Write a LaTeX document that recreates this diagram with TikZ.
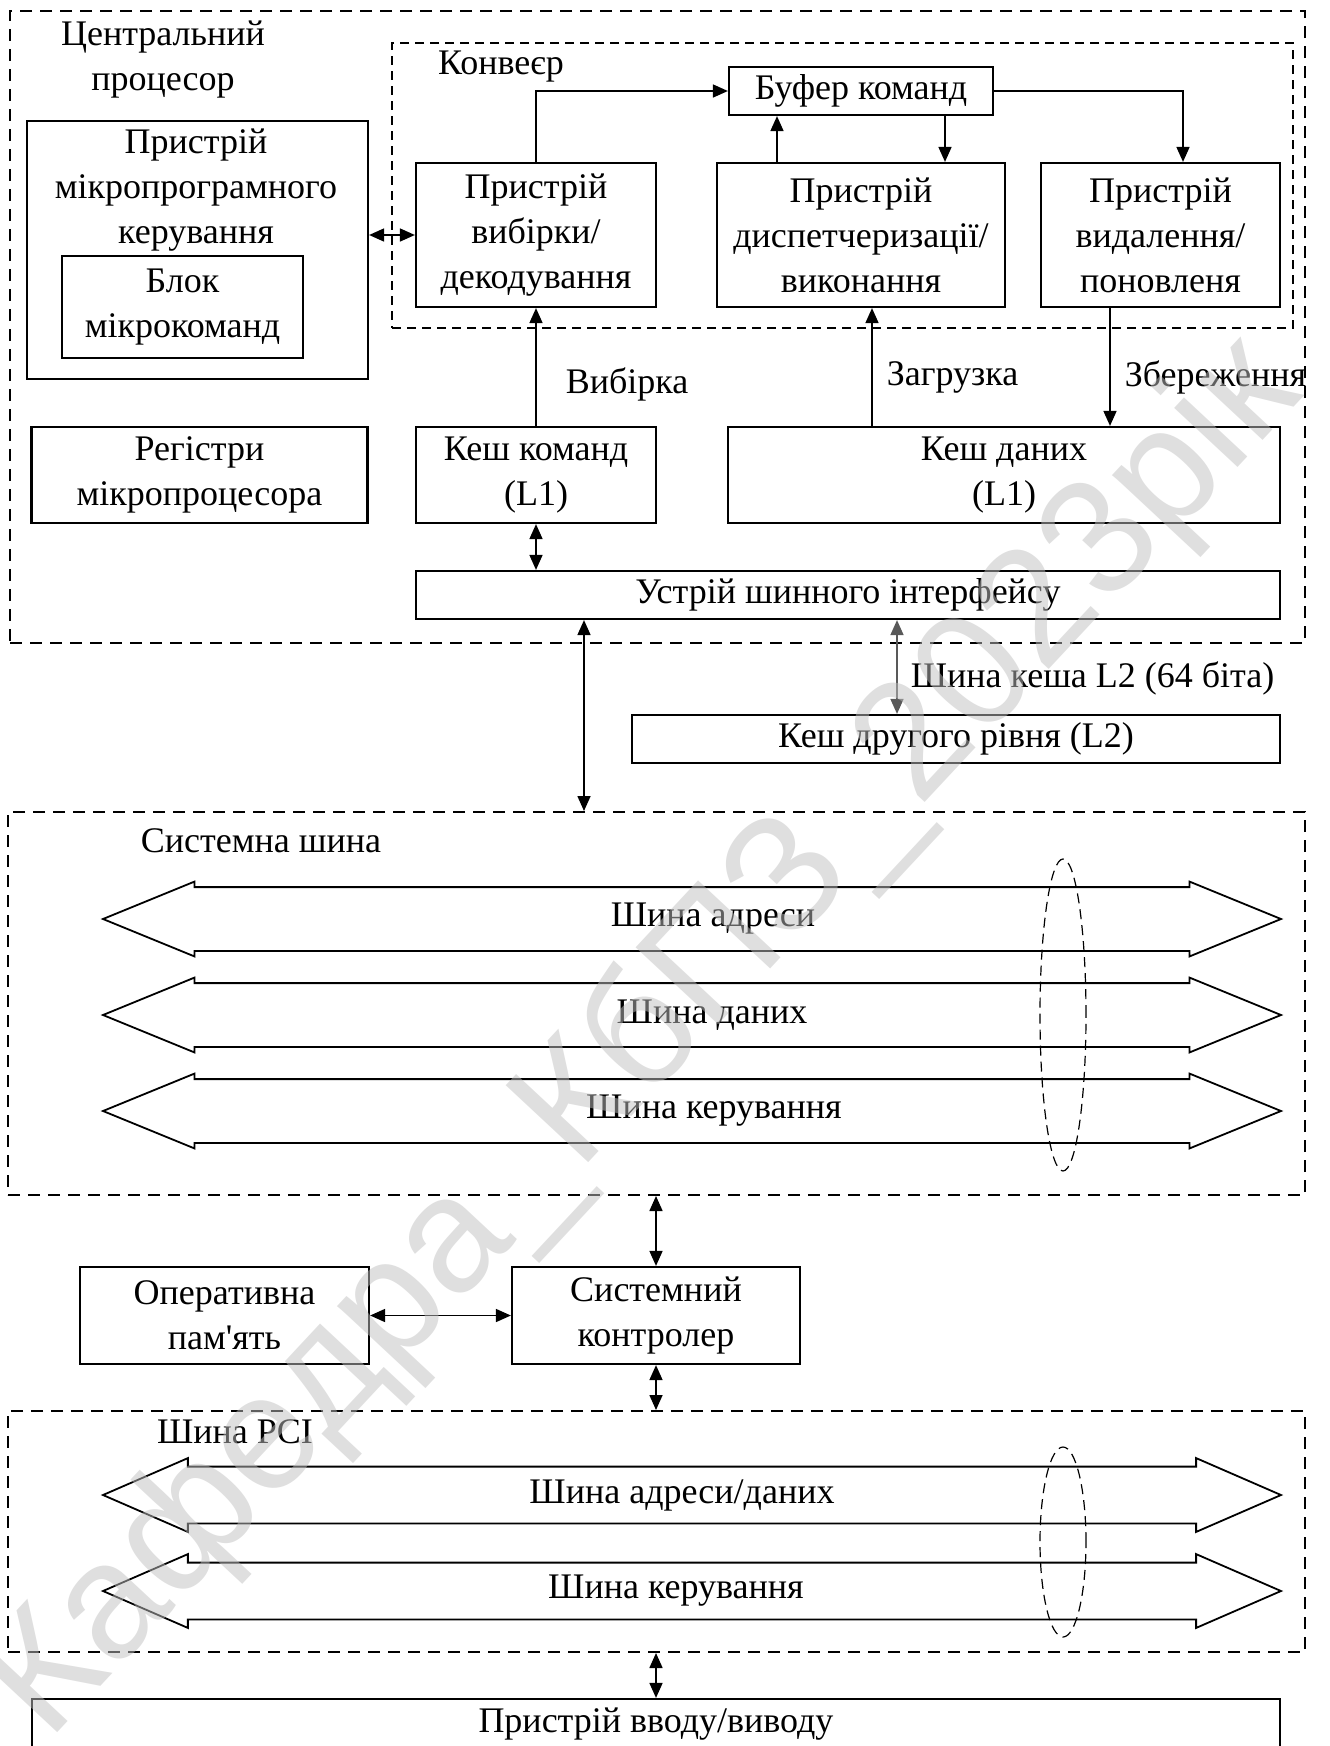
\documentclass[tikz,border=0pt]{standalone}
\usepackage{fontspec}
\setmainfont{Liberation Serif}
\newfontfamily\apofont{Liberation Serif}
\newfontfamily\wmfont{Liberation Sans}
\usetikzlibrary{arrows.meta, positioning, fit, shapes.arrows}

\begin{document}
\begin{tikzpicture}[
    x=0.5pt, y=-0.5pt,
    >={Triangle[length=7.5pt,width=6.5pt]},
    font=\fontsize{18}{22.5}\selectfont,
    box/.style={draw, line width=1.1pt, align=center, inner sep=0pt},
    outerframe/.style={draw, line width=1pt, dash pattern=on 6pt off 4pt, inner sep=0pt},
    pipeframe/.style={draw, line width=0.9pt, dash pattern=on 4.5pt off 3pt, inner sep=0pt},
    link/.style={line width=0.8pt},
    lbl/.style={inner sep=0pt, anchor=west},
    caption/.style={align=center, inner sep=0pt},
    busarrow/.style={double arrow, draw, line width=0.9pt, inner xsep=0pt, minimum height=589pt, minimum width=36pt},
    buswrap/.style={draw, line width=0.6pt, dash pattern=on 5pt off 3pt}
]
\useasboundingbox (0,0) rectangle (1329,1746);

% frames
\node[outerframe, minimum width=647.5pt, minimum height=316pt] (cpu) at (657.5,327) {};
\node[pipeframe, minimum width=450.5pt, minimum height=142.5pt] (pipe) at (842.5,185.5) {};
\node[outerframe, minimum width=648.5pt, minimum height=191.5pt] (sysbus) at (656.5,1003.5) {};
\node[outerframe, minimum width=648.5pt, minimum height=120.5pt] (pci) at (656.5,1531.5) {};

\node[caption] (cputitle) at (163,60) {Центральний\\процесор};
\node[caption] (pipetitle) at (501,67) {Конвеєр};
\node[caption] (systitle) at (261,841) {Системна шина};
\node[caption] (pcititle) at (235,1432) {Шина PCI};

% processor blocks
\node[box, minimum width=170.5pt, minimum height=129pt] (mpk) at (197.5,250) {};
\node[caption] (mpktxt) at (196,190) {Пристрій\\мікропрограмного\\керування};
\node[box, minimum width=120.5pt, minimum height=51pt] (micro) at (182.5,307) {Блок\\мікрокоманд};
\node[box, minimum width=168pt, minimum height=48pt] (regs) at (199.5,475) {Регістри\\мікропроцесора};

\node[box, minimum width=120pt, minimum height=72pt] (fetch) at (536,235) {Пристрій\\вибірки/\\декодування};
\node[box, minimum width=132pt, minimum height=24pt] (buf) at (861,91) {Буфер команд};
\node[box, minimum width=144pt, minimum height=72pt] (disp) at (861,235) {Пристрій\\диспетчеризації/\\виконання};
\node[box, minimum width=119.5pt, minimum height=72pt] (del) at (1160.5,235) {Пристрій\\видалення/\\поновленя};

\node[box, minimum width=120pt, minimum height=48pt] (cmdcache) at (536,475) {Кеш команд\\(L1)};
\node[box, minimum width=276pt, minimum height=48pt] (dcache) at (1004,475) {Кеш даних\\(L1)};
\node[box, minimum width=432pt, minimum height=24pt] (bif) at (848,595) {Устрій шинного інтерфейсу};
\node[box, minimum width=324pt, minimum height=24pt] (l2) at (956,739) {Кеш другого рівня (L2)};

% system side
\node[box, minimum width=144.5pt, minimum height=48.5pt] (ram) at (224.5,1315.5) {Оперативна\\пам{\apofont'}ять};
\node[box, minimum width=144pt, minimum height=48.5pt] (ctrl) at (656,1315.5) {Системний\\контролер};
\node[box, minimum width=624pt, minimum height=25pt] (io) at (656,1724) {Пристрій вводу/виводу};

% buses
\node[busarrow, inner ysep=15.5pt, double arrow head extend=2.75pt, double arrow tip angle=44.5,
      label={[xshift=10.5pt]center:Шина адреси}] (addrbus) at (692,919) {};
\node[busarrow, inner ysep=15.5pt, double arrow head extend=2.75pt, double arrow tip angle=44.5,
      label={[xshift=10pt]center:Шина даних}] (databus) at (692,1015) {};
\node[busarrow, inner ysep=15.5pt, double arrow head extend=2.75pt, double arrow tip angle=44.5,
      label={[xshift=11pt]center:Шина керування}] (ctrlbus) at (692,1111) {};
\draw[buswrap] (1063,1015) ellipse [x radius=11.5pt, y radius=78pt];

\node[busarrow, inner ysep=13.75pt, double arrow head extend=4.25pt, double arrow tip angle=47,
      label={[xshift=-5pt]center:Шина адреси/даних}] (adbus) at (692,1495) {};
\node[busarrow, inner ysep=13.75pt, double arrow head extend=4.25pt, double arrow tip angle=47,
      label={[xshift=-8pt]center:Шина керування}] (pcictrl) at (692,1591) {};
\draw[buswrap] (1063,1542) ellipse [x radius=11.5pt, y radius=47.5pt];

% connectors
\draw[link, <->] (fetch.west -| mpk.east) -- (fetch.west);
\draw[link, ->] (fetch.north) |- (buf.west);
\draw[link, ->] ([xshift=-42pt]disp.north) -- ([xshift=-42pt]buf.south);
\draw[link, ->] ([xshift=42pt]buf.south) -- ([xshift=42pt]disp.north);
\draw[link, ->] (buf.east) -| ([xshift=11.25pt]del.north);
\draw[link, ->] (cmdcache.north) -- node[lbl, pos=0.35, xshift=14.5pt] {Вибірка} (fetch.south);
\draw[link, ->] ([xshift=-66pt]dcache.north) -- node[lbl, pos=0.41, xshift=7pt] {Загрузка} ([xshift=5.5pt]disp.south);
\draw[link, ->] ([xshift=-25.25pt]del.south) -- node[lbl, pos=0.59, xshift=7pt] {Збереження} ([xshift=53pt]dcache.north);
\draw[link, <->] (cmdcache.south) -- (cmdcache.south |- bif.north);
\draw[link, <->] ([xshift=-132pt]bif.south) -- ([xshift=-36.25pt]sysbus.north);
\draw[link, <->, black!65] ([xshift=24.5pt]bif.south) -- node[lbl, pos=0.625, xshift=6.5pt, text=black] {Шина кеша L2 (64 біта)} ([xshift=-29.5pt]l2.north);
\draw[link, <->] (sysbus.south -| ctrl.north) -- (ctrl.north);
\draw[link, <->] (ram.east) -- (ctrl.west);
\draw[link, <->] (ctrl.south) -- (ctrl.south |- pci.north);
\draw[link, <->] (pci.south -| io.north) -- (io.north);

% watermark
\node[font=\wmfont\fontsize{82}{82}\selectfont, text=black!25, opacity=0.5, rotate=47, inner sep=0pt] (stamp) at (645,1040) {Кафедра\_КбПЗ\_2023рік};
\end{tikzpicture}
\end{document}
